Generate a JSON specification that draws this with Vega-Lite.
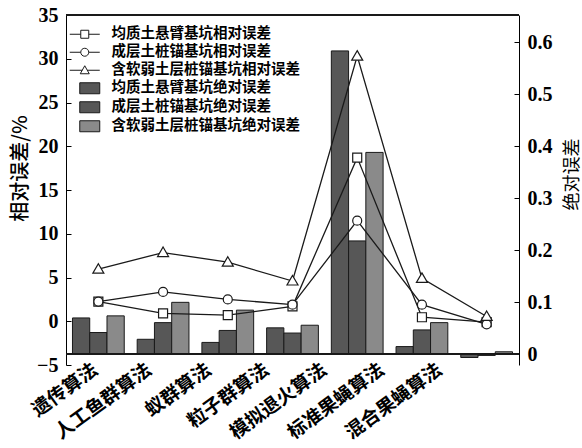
{
  "$schema": "https://vega.github.io/schema/vega-lite/v6.json",
  "width": 453,
  "height": 350,
  "autosize": {"type": "none"},
  "padding": {"left": 66, "top": 15, "right": 63, "bottom": 83},
  "background": "white",
  "config": {
    "view": {"stroke": null},
    "axis": {"domainColor": "black", "tickColor": "black", "grid": false, "labelColor": "black", "titleColor": "black"}
  },
  "data": {
    "values": [
      {"algo": "遗传算法", "series": "均质土悬臂基坑相对误差", "kind": "rel", "value": 2.25},
      {"algo": "人工鱼群算法", "series": "均质土悬臂基坑相对误差", "kind": "rel", "value": 0.9},
      {"algo": "蚁群算法", "series": "均质土悬臂基坑相对误差", "kind": "rel", "value": 0.7},
      {"algo": "粒子群算法", "series": "均质土悬臂基坑相对误差", "kind": "rel", "value": 1.7},
      {"algo": "模拟退火算法", "series": "均质土悬臂基坑相对误差", "kind": "rel", "value": 18.7},
      {"algo": "标准果蝇算法", "series": "均质土悬臂基坑相对误差", "kind": "rel", "value": 0.46},
      {"algo": "混合果蝇算法", "series": "均质土悬臂基坑相对误差", "kind": "rel", "value": -0.1},
      {"algo": "遗传算法", "series": "成层土桩锚基坑相对误差", "kind": "rel", "value": 2.25},
      {"algo": "人工鱼群算法", "series": "成层土桩锚基坑相对误差", "kind": "rel", "value": 3.35},
      {"algo": "蚁群算法", "series": "成层土桩锚基坑相对误差", "kind": "rel", "value": 2.5},
      {"algo": "粒子群算法", "series": "成层土桩锚基坑相对误差", "kind": "rel", "value": 1.9},
      {"algo": "模拟退火算法", "series": "成层土桩锚基坑相对误差", "kind": "rel", "value": 11.5},
      {"algo": "标准果蝇算法", "series": "成层土桩锚基坑相对误差", "kind": "rel", "value": 1.9},
      {"algo": "混合果蝇算法", "series": "成层土桩锚基坑相对误差", "kind": "rel", "value": -0.35},
      {"algo": "遗传算法", "series": "含软弱土层桩锚基坑相对误差", "kind": "rel", "value": 5.95},
      {"algo": "人工鱼群算法", "series": "含软弱土层桩锚基坑相对误差", "kind": "rel", "value": 7.85},
      {"algo": "蚁群算法", "series": "含软弱土层桩锚基坑相对误差", "kind": "rel", "value": 6.75},
      {"algo": "粒子群算法", "series": "含软弱土层桩锚基坑相对误差", "kind": "rel", "value": 4.6},
      {"algo": "模拟退火算法", "series": "含软弱土层桩锚基坑相对误差", "kind": "rel", "value": 30.3},
      {"algo": "标准果蝇算法", "series": "含软弱土层桩锚基坑相对误差", "kind": "rel", "value": 4.9},
      {"algo": "混合果蝇算法", "series": "含软弱土层桩锚基坑相对误差", "kind": "rel", "value": 0.55},
      {"algo": "遗传算法", "series": "均质土悬臂基坑绝对误差", "kind": "abs", "value": 0.070},
      {"algo": "人工鱼群算法", "series": "均质土悬臂基坑绝对误差", "kind": "abs", "value": 0.029},
      {"algo": "蚁群算法", "series": "均质土悬臂基坑绝对误差", "kind": "abs", "value": 0.023},
      {"algo": "粒子群算法", "series": "均质土悬臂基坑绝对误差", "kind": "abs", "value": 0.051},
      {"algo": "模拟退火算法", "series": "均质土悬臂基坑绝对误差", "kind": "abs", "value": 0.583},
      {"algo": "标准果蝇算法", "series": "均质土悬臂基坑绝对误差", "kind": "abs", "value": 0.015},
      {"algo": "混合果蝇算法", "series": "均质土悬臂基坑绝对误差", "kind": "abs", "value": -0.006},
      {"algo": "遗传算法", "series": "成层土桩锚基坑绝对误差", "kind": "abs", "value": 0.042},
      {"algo": "人工鱼群算法", "series": "成层土桩锚基坑绝对误差", "kind": "abs", "value": 0.061},
      {"algo": "蚁群算法", "series": "成层土桩锚基坑绝对误差", "kind": "abs", "value": 0.046},
      {"algo": "粒子群算法", "series": "成层土桩锚基坑绝对误差", "kind": "abs", "value": 0.041},
      {"algo": "模拟退火算法", "series": "成层土桩锚基坑绝对误差", "kind": "abs", "value": 0.218},
      {"algo": "标准果蝇算法", "series": "成层土桩锚基坑绝对误差", "kind": "abs", "value": 0.047},
      {"algo": "混合果蝇算法", "series": "成层土桩锚基坑绝对误差", "kind": "abs", "value": -0.002},
      {"algo": "遗传算法", "series": "含软弱土层桩锚基坑绝对误差", "kind": "abs", "value": 0.074},
      {"algo": "人工鱼群算法", "series": "含软弱土层桩锚基坑绝对误差", "kind": "abs", "value": 0.100},
      {"algo": "蚁群算法", "series": "含软弱土层桩锚基坑绝对误差", "kind": "abs", "value": 0.085},
      {"algo": "粒子群算法", "series": "含软弱土层桩锚基坑绝对误差", "kind": "abs", "value": 0.056},
      {"algo": "模拟退火算法", "series": "含软弱土层桩锚基坑绝对误差", "kind": "abs", "value": 0.388},
      {"algo": "标准果蝇算法", "series": "含软弱土层桩锚基坑绝对误差", "kind": "abs", "value": 0.061},
      {"algo": "混合果蝇算法", "series": "含软弱土层桩锚基坑绝对误差", "kind": "abs", "value": 0.005}
    ]
  },
  "layer": [
    {
      "layer": [
        {
          "transform": [{"filter": "datum.kind == 'abs'"}],
          "mark": {"type": "bar", "stroke": "#1a1a1a", "strokeWidth": 1},
          "encoding": {
            "x": {
              "field": "algo", "type": "nominal",
              "sort": ["遗传算法", "人工鱼群算法", "蚁群算法", "粒子群算法", "模拟退火算法", "标准果蝇算法", "混合果蝇算法"],
              "scale": {"paddingInner": 0.2, "paddingOuter": 0.1},
              "axis": {
                "title": null, "domain": false, "ticks": false,
                "labelAngle": -36, "labelAlign": "right", "labelBaseline": "top", "labelPadding": -5,
                "labelFont": "Noto Sans CJK SC", "labelFontSize": 19, "labelFontWeight": "bold",
                "labelOffset": {"expr": "[-8,-19,-24,-31,-38,-45,-52][indexof(['遗传算法','人工鱼群算法','蚁群算法','粒子群算法','模拟退火算法','标准果蝇算法','混合果蝇算法'], datum.value)]"}
              }
            },
            "xOffset": {
              "field": "series", "type": "nominal",
              "sort": ["均质土悬臂基坑绝对误差", "成层土桩锚基坑绝对误差", "含软弱土层桩锚基坑绝对误差"],
              "scale": {"paddingInner": 0, "paddingOuter": 0}
            },
            "y": {
              "field": "value", "type": "quantitative",
              "scale": {"domain": [-0.0204, 0.652], "nice": false, "zero": false},
              "axis": {
                "orient": "right", "values": [0, 0.1, 0.2, 0.3, 0.4, 0.5, 0.6], "format": ".1~f",
                "tickSize": -5, "labelPadding": 13,
                "labelFont": "Liberation Serif", "labelFontSize": 20, "labelFontWeight": "bold",
                "title": "绝对误差", "titleFont": "Noto Sans CJK SC", "titleFontSize": 18, "titleFontWeight": "normal",
                "titleAngle": 270, "titleX": 53, "titleY": 159, "titleAlign": "center", "titleBaseline": "middle"
              }
            },
            "y2": {"datum": 0},
            "fill": {
              "field": "series", "type": "nominal",
              "scale": {
                "domain": ["均质土悬臂基坑绝对误差", "成层土桩锚基坑绝对误差", "含软弱土层桩锚基坑绝对误差"],
                "range": ["#575757", "#575757", "#8a8a8a"]
              },
              "legend": null
            }
          }
        },
        {
          "mark": {"type": "rule", "color": "#1a1a1a", "strokeWidth": 1.2},
          "encoding": {"y": {"datum": 0, "type": "quantitative"}}
        }
      ]
    },
    {
      "layer": [
        {
          "transform": [{"filter": "datum.kind == 'rel'"}],
          "mark": {"type": "line", "color": "#1a1a1a", "strokeWidth": 1.3},
          "encoding": {
            "x": {
              "field": "algo", "type": "nominal",
              "sort": ["遗传算法", "人工鱼群算法", "蚁群算法", "粒子群算法", "模拟退火算法", "标准果蝇算法", "混合果蝇算法"]
            },
            "y": {
              "field": "value", "type": "quantitative",
              "scale": {"domain": [-5, 35], "nice": false, "zero": false},
              "axis": {
                "orient": "left", "values": [-5, 0, 5, 10, 15, 20, 25, 30, 35], "format": "d",
                "tickSize": -5, "labelPadding": 13,
                "labelFont": "Liberation Serif", "labelFontSize": 20, "labelFontWeight": "bold",
                "title": "相对误差/%", "titleFont": "Noto Sans CJK SC", "titleFontSize": 20, "titleFontWeight": 500,
                "titleAngle": 270, "titleX": -46, "titleY": 153, "titleAlign": "center", "titleBaseline": "middle"
              }
            },
            "detail": {"field": "series"}
          }
        },
        {
          "transform": [{"filter": "datum.kind == 'rel'"}],
          "mark": {"type": "point", "filled": false, "fill": "white", "fillOpacity": 1, "opacity": 1, "stroke": "#1a1a1a", "strokeWidth": 1.2, "size": 100},
          "encoding": {
            "x": {
              "field": "algo", "type": "nominal",
              "sort": ["遗传算法", "人工鱼群算法", "蚁群算法", "粒子群算法", "模拟退火算法", "标准果蝇算法", "混合果蝇算法"]
            },
            "y": {"field": "value", "type": "quantitative"},
            "shape": {
              "field": "series", "type": "nominal",
              "scale": {
                "domain": ["均质土悬臂基坑相对误差", "成层土桩锚基坑相对误差", "含软弱土层桩锚基坑相对误差"],
                "range": [
                  "M-0.9,-0.9L0.9,-0.9L0.9,0.9L-0.9,0.9Z",
                  "M0.9,0A0.9,0.9,0,1,1,-0.9,0A0.9,0.9,0,1,1,0.9,0Z",
                  "M0,-1.1L1.1,0.8L-1.1,0.8Z"
                ]
              },
              "legend": null
            }
          }
        },
        {
          "mark": {"type": "rule", "color": "#1a1a1a", "strokeWidth": 1.2},
          "encoding": {"y": {"datum": 35, "type": "quantitative"}}
        }
      ]
    },
    {
      "transform": [{"filter": "false"}],
      "mark": {"type": "point", "filled": false, "strokeWidth": 1, "size": 100},
      "encoding": {
        "shape": {
          "field": "series", "type": "nominal",
          "scale": {
            "domain": ["均质土悬臂基坑相对误差", "成层土桩锚基坑相对误差", "含软弱土层桩锚基坑相对误差", "均质土悬臂基坑绝对误差", "成层土桩锚基坑绝对误差", "含软弱土层桩锚基坑绝对误差"],
            "range": [
              "M-3,0L-0.8,0M0.8,0L3,0M-0.8,-0.8L0.8,-0.8L0.8,0.8L-0.8,0.8Z",
              "M-3,0L-0.8,0M0.8,0L3,0M0.8,0A0.8,0.8,0,1,1,-0.8,0A0.8,0.8,0,1,1,0.8,0Z",
              "M-3,0L-0.5,0M0.5,0L3,0M0,-0.9L0.9,0.7L-0.9,0.7Z",
              "M-1,-1.1L3,-1.1L3,1.1L-1,1.1Z",
              "M-1,-1.1L3,-1.1L3,1.1L-1,1.1Z",
              "M-1,-1.1L3,-1.1L3,1.1L-1,1.1Z"
            ]
          },
          "legend": {
            "orient": "none", "legendX": 11.5, "legendY": 12, "title": null,
            "symbolSize": 100, "labelOffset": 19.5, "rowPadding": 3,
            "labelFont": "Noto Sans CJK SC", "labelFontSize": 14.5, "labelFontWeight": "bold", "labelColor": "black", "labelLimit": 400,
            "symbolStrokeWidth": 1, "symbolOpacity": 1
          }
        },
        "fill": {
          "field": "series", "type": "nominal",
          "scale": {
            "domain": ["均质土悬臂基坑相对误差", "成层土桩锚基坑相对误差", "含软弱土层桩锚基坑相对误差", "均质土悬臂基坑绝对误差", "成层土桩锚基坑绝对误差", "含软弱土层桩锚基坑绝对误差"],
            "range": ["white", "white", "white", "#575757", "#575757", "#8a8a8a"]
          },
          "legend": {
            "orient": "none", "legendX": 11.5, "legendY": 12, "title": null,
            "symbolSize": 100, "labelOffset": 19.5, "rowPadding": 3,
            "labelFont": "Noto Sans CJK SC", "labelFontSize": 14.5, "labelFontWeight": "bold", "labelColor": "black", "labelLimit": 400,
            "symbolStrokeWidth": 1, "symbolOpacity": 1
          }
        },
        "stroke": {
          "field": "series", "type": "nominal",
          "scale": {
            "domain": ["均质土悬臂基坑相对误差", "成层土桩锚基坑相对误差", "含软弱土层桩锚基坑相对误差", "均质土悬臂基坑绝对误差", "成层土桩锚基坑绝对误差", "含软弱土层桩锚基坑绝对误差"],
            "range": ["#1a1a1a", "#1a1a1a", "#1a1a1a", "#1a1a1a", "#1a1a1a", "#1a1a1a"]
          },
          "legend": {
            "orient": "none", "legendX": 11.5, "legendY": 12, "title": null,
            "symbolSize": 100, "labelOffset": 19.5, "rowPadding": 3,
            "labelFont": "Noto Sans CJK SC", "labelFontSize": 14.5, "labelFontWeight": "bold", "labelColor": "black", "labelLimit": 400,
            "symbolStrokeWidth": 1, "symbolOpacity": 1
          }
        }
      }
    }
  ],
  "resolve": {"scale": {"y": "independent", "fill": "independent", "shape": "independent", "stroke": "independent"}}
}
